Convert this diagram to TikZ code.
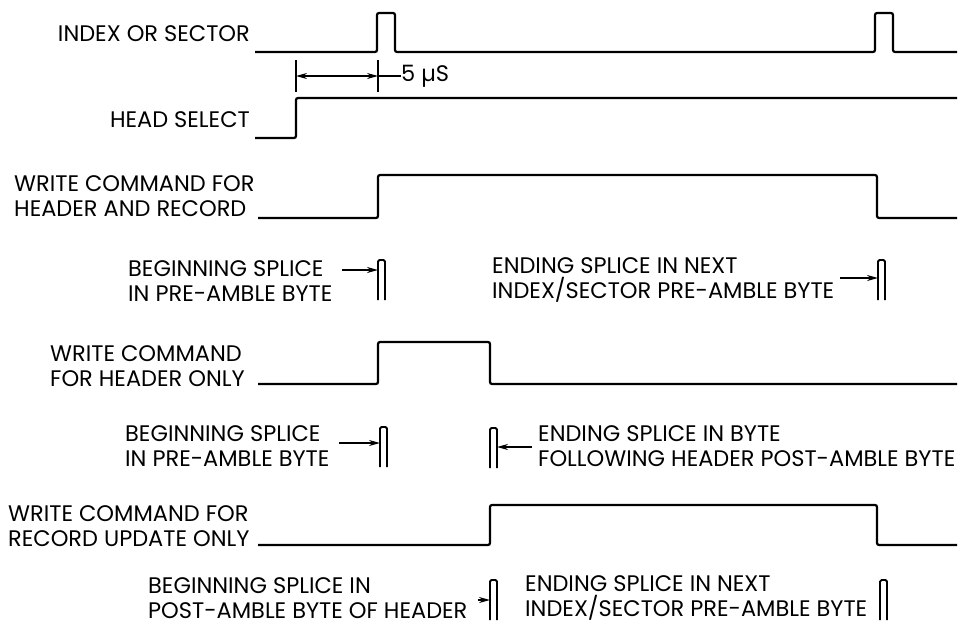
\documentclass[tikz,border=0pt]{standalone}
\usepackage{fontspec}
\setmainfont{Poppins}
\usetikzlibrary{arrows.meta}

\tikzset{
  wave/.style={line width=2.2pt, rounded corners=2pt},
  lbl/.style={font=\fontsize{22.5}{25}\selectfont, inner sep=0pt, align=left},
  splice/.style={line width=1.8pt, rounded corners=1.5pt},
  ptr/.style={line width=1.5pt, -{Stealth[length=11pt,width=6pt]}},
  dim/.style={line width=1.3pt},
}

% splice marker: name, x, top
\newcommand{\splicemark}[3]{%
  \draw[splice] (#2,#3+40) -- (#2,#3) -- (#2+7,#3) -- (#2+7,#3+40);
  \coordinate (#1) at (#2,#3);
}

\begin{document}
\begin{tikzpicture}[x=1pt, y=-1pt]
  \useasboundingbox (0,0) rectangle (968,637);

  % index or sector
  \node[lbl, anchor=east] (idx) at (250,34) {INDEX OR SECTOR};
  \draw[wave] (255,52) -- (377,52) -- (377,13) -- (395,13) -- (395,52)
    -- (875,52) -- (875,13) -- (893,13) -- (893,52) -- (957,52);

  % 5 us between head select and index
  \coordinate (tl) at (296,76);
  \coordinate (tr) at (378,76);
  \draw[dim] (296,60) -- (296,92);
  \draw[dim] (378,60) -- (378,92);
  \draw[dim, {Stealth[length=11pt,width=6pt]}-{Stealth[length=11pt,width=6pt]}] (tl) -- (tr);
  \node[lbl, anchor=west] (us) at (401,76) {5 µS};
  \draw[dim] (tr) -- (us.west);

  % head select
  \node[lbl, anchor=east] (hs) at (250,120) {HEAD SELECT};
  \draw[wave] (255,138) -- (296,138) -- (296,98) -- (957,98);

  % header and record
  \node[lbl, anchor=west] (hr) at (14,196) {WRITE COMMAND FOR\\HEADER AND RECORD};
  \draw[wave] (258,218) -- (378,218) -- (378,175) -- (877,175) -- (877,218) -- (957,218);

  \node[lbl, anchor=west] (bs1) at (128,281) {BEGINNING SPLICE\\IN PRE-AMBLE BYTE};
  \splicemark{m1}{378}{260}
  \draw[ptr] ([xshift=9pt]bs1.east |- 0,270) -- (m1 |- 0,270);
  \node[lbl, anchor=west] (es1) at (492,280) {ENDING SPLICE IN NEXT\\INDEX/SECTOR PRE-AMBLE BYTE};
  \splicemark{m2}{878}{260}
  \draw[ptr] ([xshift=6pt]es1.east |- 0,278) -- (m2 |- 0,278);

  % header only
  \node[lbl, anchor=west] (ho) at (50,366) {WRITE COMMAND\\FOR HEADER ONLY};
  \draw[wave] (258,384) -- (378,384) -- (378,342) -- (490,342) -- (490,384) -- (957,384);

  \node[lbl, anchor=west] (bs2) at (125,446) {BEGINNING SPLICE\\IN PRE-AMBLE BYTE};
  \splicemark{m3}{380}{427}
  \draw[ptr] ([xshift=9pt]bs2.east |- 0,443) -- (m3 |- 0,443);
  \node[lbl, anchor=west] (es2) at (538,446) {ENDING SPLICE IN BYTE\\FOLLOWING HEADER POST-AMBLE BYTE};
  \splicemark{m4}{490}{428}
  \draw[ptr] ([xshift=-6pt]es2.west |- 0,447) -- ([xshift=7pt]m4 |- 0,447);

  % record update only
  \node[lbl, anchor=west] (ru) at (8,526) {WRITE COMMAND FOR\\RECORD UPDATE ONLY};
  \draw[wave] (258,545) -- (490,545) -- (490,505) -- (877,505) -- (877,545) -- (957,545);

  \node[lbl, anchor=west] (bs3) at (148,598) {BEGINNING SPLICE IN\\POST-AMBLE BYTE OF HEADER};
  \splicemark{m5}{490}{580}
  \draw[ptr] ([xshift=10pt]bs3.east |- 0,600) -- (m5 |- 0,600);
  \node[lbl, anchor=west] (es3) at (525,598) {ENDING SPLICE IN NEXT\\INDEX/SECTOR PRE-AMBLE BYTE};
  \splicemark{m6}{880}{580}
\end{tikzpicture}
\end{document}
